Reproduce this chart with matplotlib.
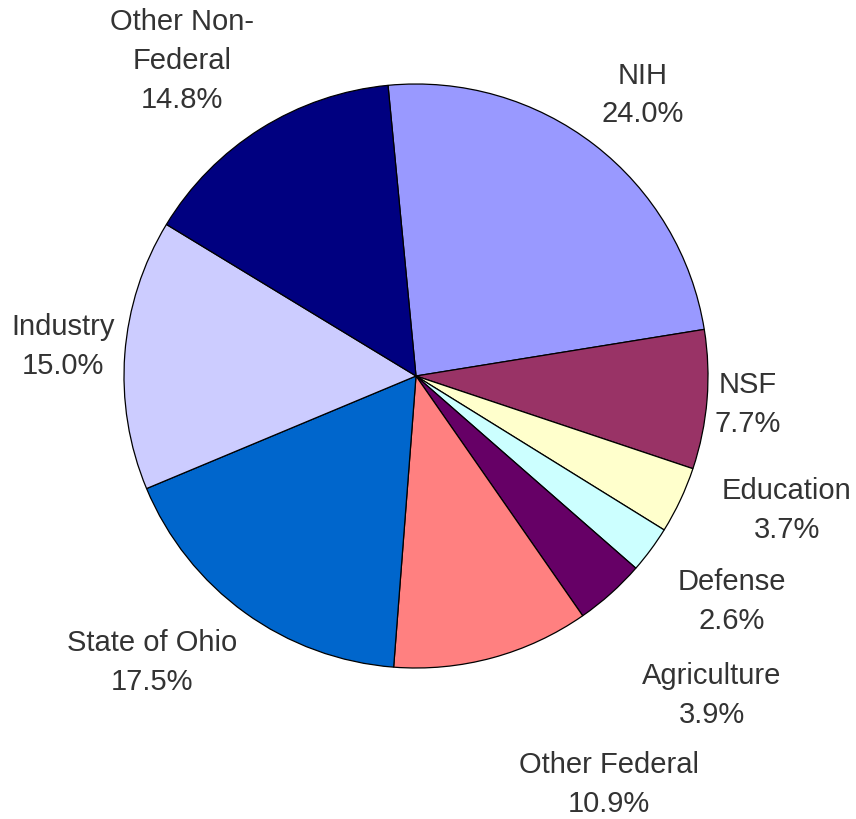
import matplotlib
matplotlib.use('Agg')
import matplotlib.pyplot as plt

labels = ['NIH', 'NSF', 'Education', 'Defense', 'Agriculture',
          'Other Federal', 'State of Ohio', 'Industry', 'Other Non-\nFederal']
shares = [24.0, 7.7, 3.7, 2.6, 3.9, 10.9, 17.5, 15.0, 14.8]
colors = ['#9999FF', '#993366', '#FFFFCC', '#CCFFFF', '#660066',
          '#FF8080', '#0066CC', '#CCCCFF', '#000080']

# label centres in pixels (x from left, y from top)
label_pos = [(643, 95), (748, 405), (787, 511), (732, 602), (712, 696),
             (609, 785), (152, 663), (63, 347), (182, 61)]

W, H = 856, 820
fig = plt.figure(figsize=(W / 100, H / 100), dpi=100)
ax = fig.add_axes([0, 0, 1, 1])

ax.pie(shares, colors=colors, startangle=95.5, counterclock=False,
       center=(416, H - 377), radius=292, frame=True,
       wedgeprops=dict(edgecolor='black', linewidth=0.9))
ax.set_xlim(0, W)
ax.set_ylim(0, H)
ax.set_aspect('equal')
ax.axis('off')

for lab, val, (x, y) in zip(labels, shares, label_pos):
    ax.text(x, H - y, f'{lab}\n{val:.1f}%', ha='center', va='center',
            fontsize=21, family='Liberation Sans', color='#333333',
            linespacing=1.5)

fig.savefig('out.png', dpi=100, facecolor='white')
